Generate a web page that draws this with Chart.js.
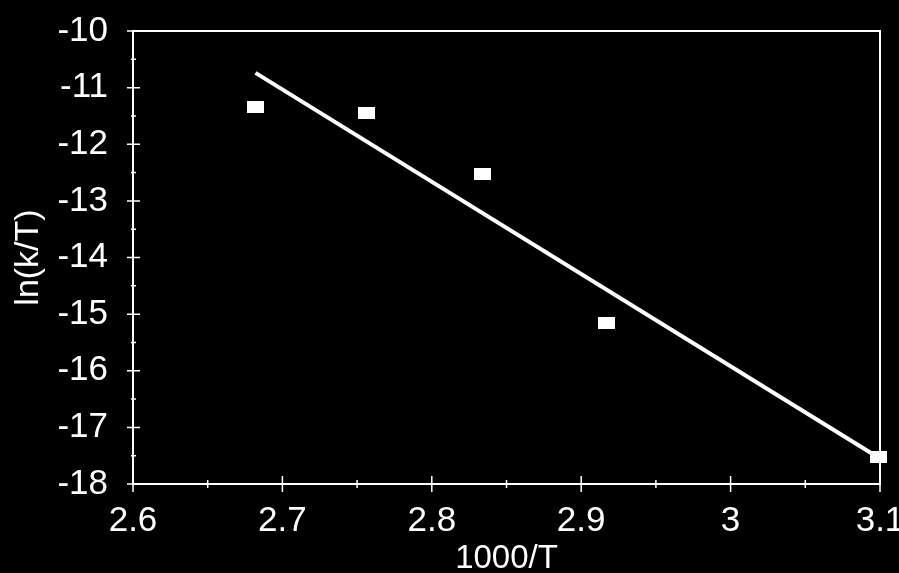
<!DOCTYPE html>
<html>
<head>
<meta charset="utf-8">
<script src="https://cdn.jsdelivr.net/npm/chart.js@4/dist/chart.umd.min.js"></script>
<style>
html,body{margin:0;padding:0;background:#000;}
#wrap{width:899px;height:573px;position:relative;}
</style>
</head>
<body>
<div id="wrap"><canvas id="c" width="899" height="573"></canvas></div>
<script>
// Data
const xValues = [2.682, 2.756, 2.834, 2.917, 3.099];
const yValues = [-11.34, -11.45, -12.52, -15.15, -17.53];
const fitX = [2.682, 3.097];
const fitY = [-10.74, -17.50];
const xTickLabels = ['2.6', '2.7', '2.8', '2.9', '3', '3.1'];
const yTickLabels = ['-10', '-11', '-12', '-13', '-14', '-15', '-16', '-17', '-18'];
const xTitle = '1000/T';
const yTitle = 'ln(k/T)';

const FONT = '"Liberation Sans", Arial, sans-serif';

// white rectangular marker
const marker = document.createElement('canvas');
marker.width = 17; marker.height = 12;
{ const m = marker.getContext('2d'); m.fillStyle = '#fff'; m.fillRect(0, 0, 17, 12); }

const frameAndTicks = {
  id: 'frameAndTicks',
  afterDatasetsDraw(chart) {
    const ctx = chart.ctx, a = chart.chartArea;
    const xs = chart.scales.x, ys = chart.scales.y;
    ctx.save();
    ctx.strokeStyle = '#fff';
    ctx.lineWidth = 2;
    ctx.strokeRect(a.left, a.top, a.right - a.left, a.bottom - a.top);
    ctx.lineWidth = 1.5;
    ctx.beginPath();
    xs.ticks.forEach((t, i) => {
      const p = xs.getPixelForValue(t.value);
      ctx.moveTo(p, a.bottom - 8); ctx.lineTo(p, a.bottom + 8);
      if (i < xs.ticks.length - 1) {
        const q = xs.getPixelForValue((t.value + xs.ticks[i + 1].value) / 2);
        ctx.moveTo(q, a.bottom - 4); ctx.lineTo(q, a.bottom + 4);
      }
    });
    ys.ticks.forEach((t, i) => {
      const p = ys.getPixelForValue(t.value);
      ctx.moveTo(a.left - 6, p); ctx.lineTo(a.left + 7, p);
      if (i < ys.ticks.length - 1) {
        const q = ys.getPixelForValue((t.value + ys.ticks[i + 1].value) / 2);
        ctx.moveTo(a.left - 2, q); ctx.lineTo(a.left + 3, q);
      }
    });
    ctx.stroke();
    ctx.restore();
  }
};

new Chart(document.getElementById('c'), {
  type: 'scatter',
  data: {
    datasets: [
      {
        type: 'line',
        data: fitX.map((x, i) => ({ x, y: fitY[i] })),
        borderColor: '#fff',
        borderWidth: 4,
        pointRadius: 0,
        fill: false,
        clip: false
      },
      {
        data: xValues.map((x, i) => ({ x, y: yValues[i] })),
        pointStyle: marker,
        pointRadius: 8,
        backgroundColor: '#fff',
        borderColor: '#fff',
        clip: false
      }
    ]
  },
  options: {
    responsive: false,
    animation: false,
    events: [],
    layout: { padding: { left: 0, right: 19, top: 31, bottom: -6 } },
    plugins: { legend: { display: false }, tooltip: { enabled: false } },
    scales: {
      x: {
        type: 'linear',
        min: 2.6, max: 3.1,
        grid: { display: false, drawTicks: false },
        border: { display: false },
        ticks: {
          stepSize: 0.1,
          color: '#fff',
          font: { family: FONT, size: 35 },
          padding: 16,
          maxRotation: 0,
          autoSkip: false,
          callback: (v, i) => xTickLabels[i]
        },
        title: {
          display: true,
          text: xTitle,
          color: '#fff',
          font: { family: FONT, size: 33 },
          padding: { top: 0, bottom: 0 }
        },
        afterFit: s => { s.height = 95; s.paddingLeft = 0; s.paddingRight = 0; }
      },
      y: {
        type: 'linear',
        min: -18, max: -10,
        grid: { display: false, drawTicks: false },
        border: { display: false },
        ticks: {
          stepSize: 1,
          color: '#fff',
          font: { family: FONT, size: 35 },
          padding: 25,
          autoSkip: false,
          callback: (v, i, arr) => yTickLabels[arr.length - 1 - i]
        },
        title: {
          display: true,
          text: yTitle,
          color: '#fff',
          font: { family: FONT, size: 34 },
          padding: { top: 8, bottom: 0 }
        },
        afterFit: s => { s.width = 133; s.paddingTop = 0; s.paddingBottom = 0; }
      }
    }
  },
  plugins: [{
    id: 'bg',
    beforeDraw(c) { const x = c.ctx; x.save(); x.fillStyle = '#000'; x.fillRect(0, 0, c.width, c.height); x.restore(); }
  }, frameAndTicks]
});
</script>
</body>
</html>
